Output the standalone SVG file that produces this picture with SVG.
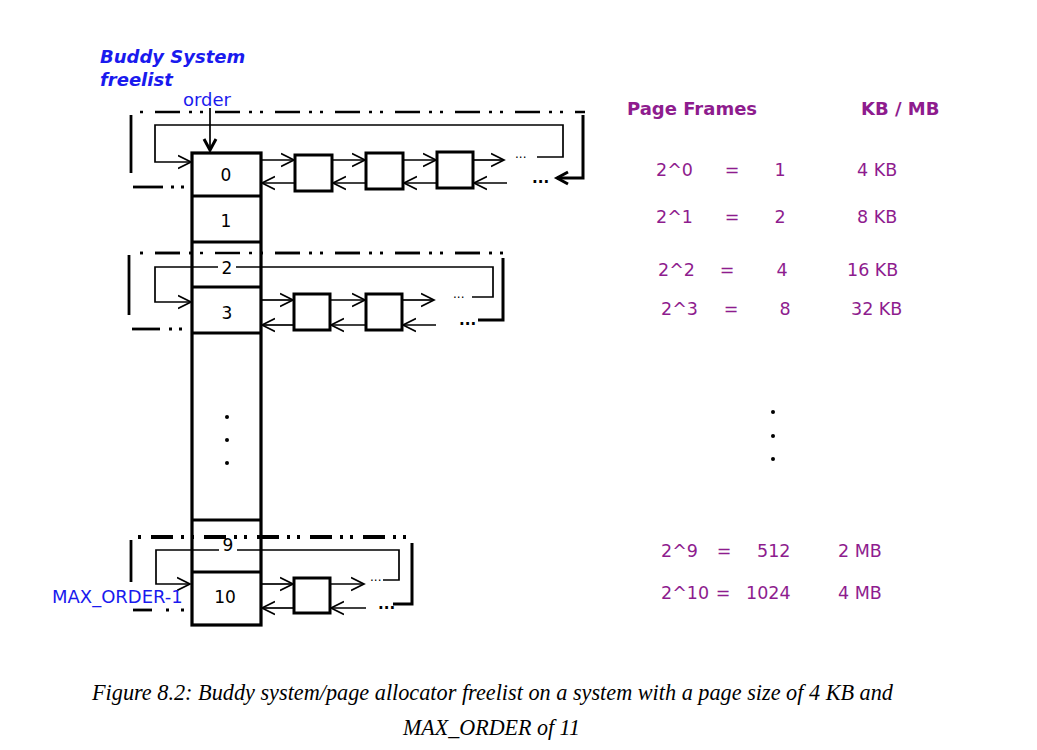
<svg xmlns="http://www.w3.org/2000/svg" width="1037" height="750" viewBox="0 0 1037 750">
<style>
.bg{fill:#fff}
.div{stroke:#000;stroke-width:2.8;fill:none}
.box{fill:#fff;stroke:#000;stroke-width:3}
.ln{stroke:#000;stroke-width:1.7;fill:none}
.thk{stroke:#000;stroke-width:3;fill:none}
.dd{stroke:#000;stroke-width:2.6;fill:none;stroke-dasharray:25 9 3 8 3 12}
.dd2{stroke:#000;stroke-width:3.8;fill:none;stroke-dasharray:22 8 3 7 3 10}
.lbl{font-family:"DejaVu Sans",sans-serif;font-size:17px;fill:#000;text-anchor:middle}
.blue{font-family:"DejaVu Sans",sans-serif;fill:#1a1aee}
.pur{font-family:"DejaVu Sans",sans-serif;font-size:17.5px;fill:#8e1c8e}
.purb{font-family:"DejaVu Sans",sans-serif;font-size:18px;font-weight:bold;fill:#8e1c8e}
.dots{font-family:"DejaVu Sans",sans-serif;font-size:12px;fill:#000}
.bdots{font-family:"DejaVu Sans",sans-serif;font-size:15px;font-weight:bold;fill:#000}
.cap{font-family:"Liberation Serif",serif;font-style:italic;font-size:24px;fill:#000}
</style>
<defs>
<marker id="ah" markerUnits="userSpaceOnUse" markerWidth="16" markerHeight="16" refX="13" refY="8" orient="auto">
<path d="M0,1.5 L13,8 L0,14.5" fill="none" stroke="#000" stroke-width="1.7"/>
</marker>
<marker id="ahb" markerUnits="userSpaceOnUse" markerWidth="16" markerHeight="16" refX="12" refY="8" orient="auto">
<path d="M1,2 L12,8 L1,14" fill="none" stroke="#000" stroke-width="3"/>
</marker>
</defs>
<rect class="bg" x="0" y="0" width="1037" height="750"/>

<g id="title">
<text class="blue" x="100" y="63" font-size="18" font-weight="bold" font-style="italic">Buddy System</text>
<text class="blue" x="100" y="86" font-size="18" font-weight="bold" font-style="italic">freelist</text>
<text class="blue" x="183" y="106" font-size="18">order</text>
</g>

<g id="connectors">
<!-- order arrow -->
<line class="ln" x1="210" y1="108" x2="210" y2="150" stroke-width="2.2" marker-end="url(#ahb)"/>

<!-- order 0 -->
<line class="dd" x1="137" y1="112" x2="585" y2="112" stroke-dashoffset="-18"/>
<line class="div" x1="131" y1="115" x2="131" y2="173" stroke-width="2"/>
<line class="div" x1="133" y1="187" x2="163" y2="187" stroke-width="2"/>
<line class="div" x1="171" y1="187" x2="184" y2="187" stroke-width="2.5" stroke-dasharray="3 7"/>
<polyline class="ln" points="537,157 563,157 563,125 155,125 155,162 191,162" marker-end="url(#ah)"/>
<polyline class="thk" points="583,115 583,178 557,178" marker-end="url(#ahb)"/>
<line class="ln" x1="261" y1="160" x2="294" y2="160" marker-end="url(#ah)"/>
<line class="ln" x1="332" y1="160" x2="365" y2="160" marker-end="url(#ah)"/>
<line class="ln" x1="403" y1="160" x2="436" y2="160" marker-end="url(#ah)"/>
<line class="ln" x1="473" y1="160" x2="504" y2="160" marker-end="url(#ah)"/>
<line class="ln" x1="295" y1="183" x2="262" y2="183" marker-end="url(#ah)"/>
<line class="ln" x1="366" y1="183" x2="333" y2="183" marker-end="url(#ah)"/>
<line class="ln" x1="437" y1="183" x2="404" y2="183" marker-end="url(#ah)"/>
<line class="ln" x1="507" y1="183" x2="474" y2="183" marker-end="url(#ah)"/>

<!-- order 3 -->
<line class="dd" x1="137" y1="253" x2="503" y2="253" stroke-dashoffset="-18"/>
<line class="div" x1="129" y1="255" x2="129" y2="315" stroke-width="2"/>
<line class="div" x1="132" y1="329" x2="160" y2="329" stroke-width="2"/>
<line class="div" x1="169" y1="329" x2="182" y2="329" stroke-width="2.5" stroke-dasharray="3 7"/>
<polyline class="ln" points="472,297 493,297 493,267 155,267 155,302 191,302" marker-end="url(#ah)"/>
<polyline class="thk" points="503,258 503,320 478,320"/>
<line class="ln" x1="261" y1="300" x2="293" y2="300" marker-end="url(#ah)"/>
<line class="ln" x1="330" y1="300" x2="365" y2="300" marker-end="url(#ah)"/>
<line class="ln" x1="402" y1="300" x2="434" y2="300" marker-end="url(#ah)"/>
<line class="ln" x1="294" y1="325" x2="262" y2="325" marker-end="url(#ah)"/>
<line class="ln" x1="366" y1="325" x2="331" y2="325" marker-end="url(#ah)"/>
<line class="ln" x1="436" y1="325" x2="403" y2="325" marker-end="url(#ah)"/>

<!-- order 10 -->
<line class="dd2" x1="135" y1="537" x2="413" y2="537" stroke-dashoffset="-16"/>
<line class="div" x1="131" y1="540" x2="131" y2="582" stroke-width="2"/>
<line class="div" x1="133" y1="610" x2="152" y2="610" stroke-width="2"/>
<line class="div" x1="166" y1="610" x2="184" y2="610" stroke-width="2.5" stroke-dasharray="3 12"/>
<polyline class="ln" points="383,580 399,580 399,550 156,550 156,584 190,584" marker-end="url(#ah)"/>
<polyline class="thk" points="412,543 412,604 393,604" stroke-width="3.5"/>
<line class="ln" x1="261" y1="584" x2="293" y2="584" marker-end="url(#ah)"/>
<line class="ln" x1="330" y1="584" x2="364" y2="584" marker-end="url(#ah)"/>
<line class="ln" x1="294" y1="608" x2="262" y2="608" marker-end="url(#ah)"/>
<line class="ln" x1="366" y1="608" x2="331" y2="608" marker-end="url(#ah)"/>
</g>

<g id="freelist-array">
<rect x="192" y="153" width="69" height="472" fill="#fff" stroke="none"/>
<line class="div" x1="192" y1="196" x2="261" y2="196"/>
<line class="div" x1="192" y1="242" x2="261" y2="242"/>
<line class="div" x1="192" y1="287" x2="261" y2="287"/>
<line class="div" x1="192" y1="333" x2="261" y2="333"/>
<line class="div" x1="192" y1="520" x2="261" y2="520"/>
<line class="div" x1="192" y1="572" x2="261" y2="572"/>
<line class="dd" x1="137" y1="253" x2="503" y2="253" stroke-dashoffset="-18"/>
<line class="ln" x1="192" y1="267" x2="261" y2="267"/>
<line class="dd2" x1="135" y1="537" x2="413" y2="537" stroke-dashoffset="-16"/>
<line class="ln" x1="192" y1="550" x2="261" y2="550"/>
<rect x="192" y="153" width="69" height="472" fill="none" stroke="#000" stroke-width="3.2"/>
<text class="lbl" x="226" y="181">0</text>
<text class="lbl" x="226" y="227">1</text>
<rect x="218" y="258" width="18" height="18" fill="#fff"/>
<text class="lbl" x="227" y="274">2</text>
<text class="lbl" x="227" y="319">3</text>
<circle cx="227" cy="417" r="2" fill="#000"/>
<circle cx="227" cy="440" r="2" fill="#000"/>
<circle cx="227" cy="463" r="2" fill="#000"/>
<rect x="219" y="541" width="18" height="14" fill="#fff"/>
<text class="lbl" x="228" y="551">9</text>
<text class="lbl" x="225" y="603">10</text>
</g>

<g id="order0-blocks">
<rect class="box" x="295" y="155" width="37" height="36"/>
<rect class="box" x="366" y="153" width="37" height="36"/>
<rect class="box" x="437" y="152" width="36" height="36"/>
<text class="dots" x="515" y="158">...</text>
<text class="bdots" x="532" y="183">...</text>
</g>

<g id="order3-blocks">
<rect class="box" x="294" y="294" width="36" height="36"/>
<rect class="box" x="366" y="294" width="36" height="36"/>
<text class="dots" x="453" y="298">...</text>
<text class="bdots" x="459" y="325">...</text>
</g>

<g id="order10-blocks">
<rect class="box" x="294" y="578" width="36" height="35"/>
<text class="dots" x="370" y="581">...</text>
<text class="bdots" x="378" y="609">...</text>
<text class="blue" x="52" y="603" font-size="18">MAX_ORDER-1</text>
</g>

<g id="table">
<text class="purb" x="627" y="115">Page Frames</text>
<text class="purb" x="861" y="115">KB / MB</text>
<text class="pur" x="656" y="176">2^0</text>
<text class="pur" x="732" y="176" text-anchor="middle">=</text>
<text class="pur" x="780" y="176" text-anchor="middle">1</text>
<text class="pur" x="857" y="176">4 KB</text>
<text class="pur" x="656" y="223">2^1</text>
<text class="pur" x="732" y="223" text-anchor="middle">=</text>
<text class="pur" x="780" y="223" text-anchor="middle">2</text>
<text class="pur" x="857" y="223">8 KB</text>
<text class="pur" x="658" y="276">2^2</text>
<text class="pur" x="727" y="276" text-anchor="middle">=</text>
<text class="pur" x="782" y="276" text-anchor="middle">4</text>
<text class="pur" x="847" y="276">16 KB</text>
<text class="pur" x="661" y="315">2^3</text>
<text class="pur" x="731" y="315" text-anchor="middle">=</text>
<text class="pur" x="785" y="315" text-anchor="middle">8</text>
<text class="pur" x="851" y="315">32 KB</text>
<circle cx="773" cy="412" r="2" fill="#000"/>
<circle cx="773" cy="436" r="2" fill="#000"/>
<circle cx="773" cy="459" r="2" fill="#000"/>
<text class="pur" x="661" y="557">2^9</text>
<text class="pur" x="724" y="557" text-anchor="middle">=</text>
<text class="pur" x="757" y="557">512</text>
<text class="pur" x="838" y="557">2 MB</text>
<text class="pur" x="661" y="599">2^10</text>
<text class="pur" x="723" y="599" text-anchor="middle">=</text>
<text class="pur" x="746" y="599">1024</text>
<text class="pur" x="838" y="599">4 MB</text>
</g>

<g id="caption">
<text class="cap" x="92" y="700" textLength="801" lengthAdjust="spacingAndGlyphs">Figure 8.2: Buddy system/page allocator freelist on a system with a page size of 4 KB and</text>
<text class="cap" x="403" y="735" textLength="177" lengthAdjust="spacingAndGlyphs">MAX_ORDER of 11</text>
</g>
</svg>
